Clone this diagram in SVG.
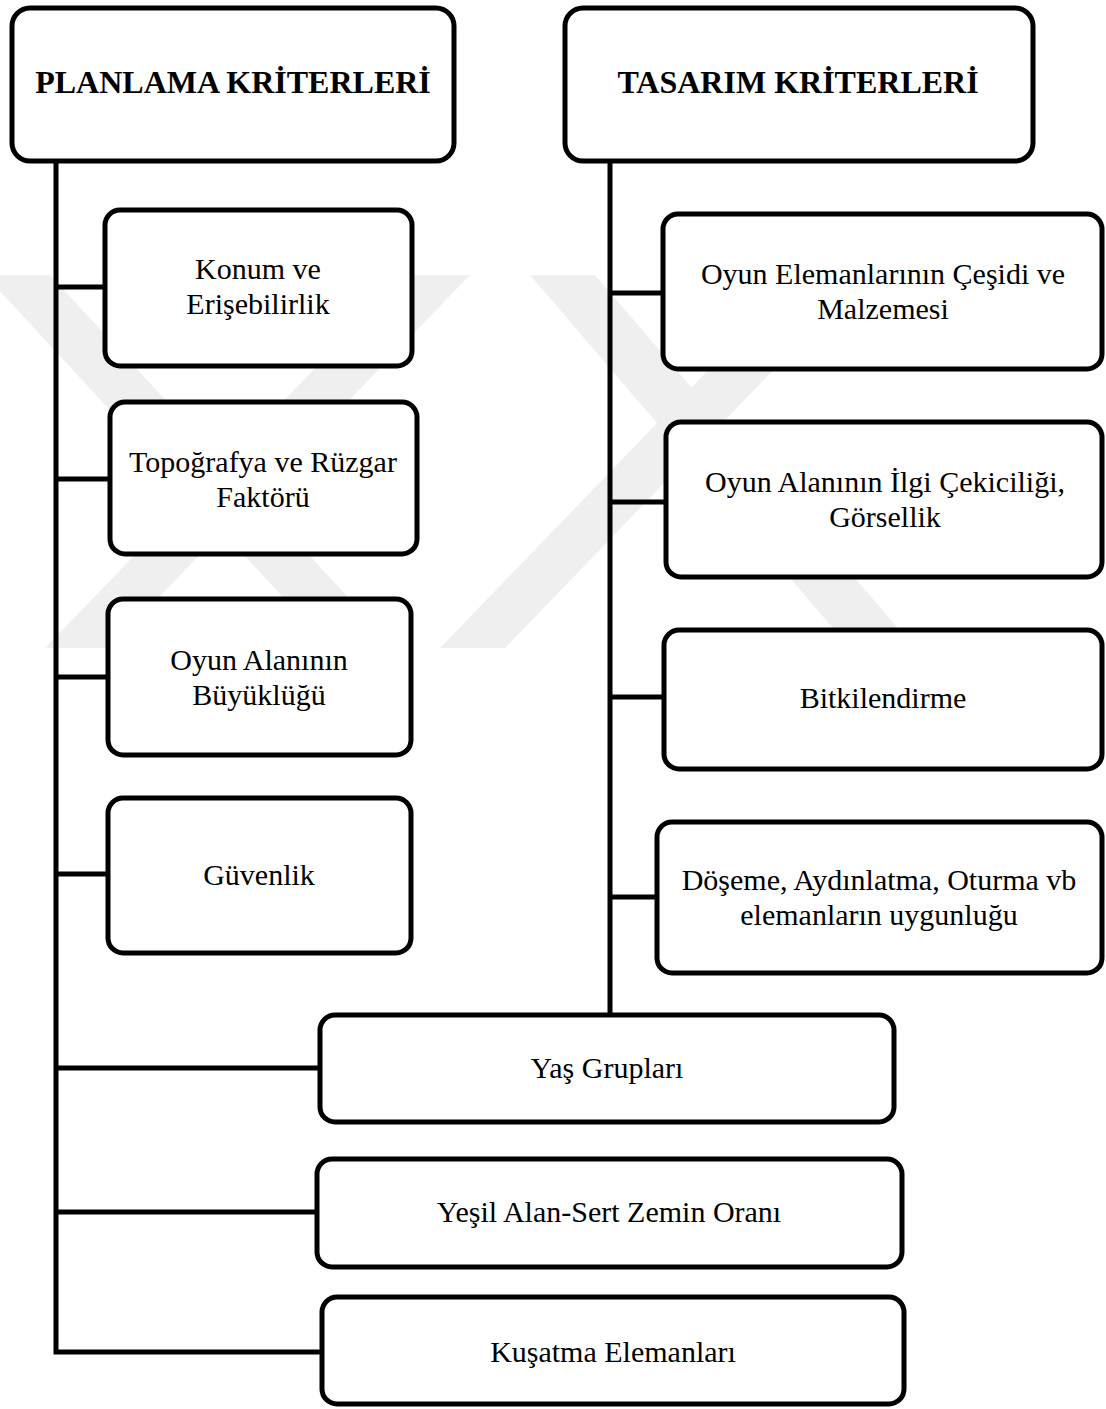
<svg xmlns="http://www.w3.org/2000/svg" width="1106" height="1409" viewBox="0 0 1106 1409">
<style>
.box{fill:#ffffff;stroke:#000000;stroke-width:5}
.t{font-family:"Liberation Serif","Times New Roman",serif;font-size:30px;fill:#000000;text-anchor:middle}
.h{font-family:"Liberation Serif","Times New Roman",serif;font-size:32px;font-weight:bold;fill:#000000;text-anchor:middle}
.c{fill:none;stroke:#000000;stroke-width:5}
.wm{fill:#efefef}
</style>
<rect width="1106" height="1409" fill="#ffffff"/>
<g id="watermark">
<polygon class="wm" points="-15,275 50,275 395,648 330,648"/>
<polygon class="wm" points="405,275 470,275 110,648 45,648"/>
<polygon class="wm" points="530,275 595,275 915,648 850,648"/>
<polygon class="wm" points="800,275 865,275 505,648 440,648"/>
</g>
<g id="connectors">
<path class="c" d="M56,161 V1352 H322"/>
<path class="c" d="M56,287 H105"/>
<path class="c" d="M56,479 H110"/>
<path class="c" d="M56,677 H108"/>
<path class="c" d="M56,874 H108"/>
<path class="c" d="M56,1068 H320"/>
<path class="c" d="M56,1212 H317"/>
<path class="c" d="M610,161 V1015"/>
<path class="c" d="M610,293 H663"/>
<path class="c" d="M610,502 H666"/>
<path class="c" d="M610,697 H664"/>
<path class="c" d="M610,897 H657"/>
</g>
<g id="planlama">
<rect class="box" x="12" y="8" width="442" height="153" rx="18"/>
<text class="h" x="233" y="93">PLANLAMA KRİTERLERİ</text>
</g>
<g id="tasarim">
<rect class="box" x="565" y="8" width="468" height="153" rx="18"/>
<text class="h" x="798" y="93">TASARIM KRİTERLERİ</text>
</g>
<g id="konum">
<rect class="box" x="105" y="210" width="307" height="156" rx="15"/>
<text class="t" x="258" y="279">Konum ve</text>
<text class="t" x="258" y="314">Erişebilirlik</text>
</g>
<g id="topografya">
<rect class="box" x="110" y="402" width="307" height="152" rx="15"/>
<text class="t" x="263" y="472">Topoğrafya ve Rüzgar</text>
<text class="t" x="263" y="507">Faktörü</text>
</g>
<g id="buyukluk">
<rect class="box" x="108" y="599" width="303" height="156" rx="15"/>
<text class="t" x="259" y="670">Oyun Alanının</text>
<text class="t" x="259" y="705">Büyüklüğü</text>
</g>
<g id="guvenlik">
<rect class="box" x="108" y="798" width="303" height="155" rx="15"/>
<text class="t" x="259" y="885">Güvenlik</text>
</g>
<g id="elemanlar">
<rect class="box" x="663" y="214" width="439" height="155" rx="15"/>
<text class="t" x="883" y="284">Oyun Elemanlarının Çeşidi ve</text>
<text class="t" x="883" y="319">Malzemesi</text>
</g>
<g id="ilgi">
<rect class="box" x="666" y="422" width="436" height="155" rx="15"/>
<text class="t" x="885" y="492">Oyun Alanının İlgi Çekiciliği,</text>
<text class="t" x="885" y="527">Görsellik</text>
</g>
<g id="bitkilendirme">
<rect class="box" x="664" y="630" width="438" height="139" rx="15"/>
<text class="t" x="883" y="708">Bitkilendirme</text>
</g>
<g id="doseme">
<rect class="box" x="657" y="822" width="445" height="151" rx="15"/>
<text class="t" x="879" y="890">Döşeme, Aydınlatma, Oturma vb</text>
<text class="t" x="879" y="925">elemanların uygunluğu</text>
</g>
<g id="yas">
<rect class="box" x="320" y="1015" width="574" height="107" rx="15"/>
<text class="t" x="607" y="1078">Yaş Grupları</text>
</g>
<g id="yesil">
<rect class="box" x="317" y="1159" width="585" height="108" rx="15"/>
<text class="t" x="609" y="1222">Yeşil Alan-Sert Zemin Oranı</text>
</g>
<g id="kusatma">
<rect class="box" x="322" y="1297" width="582" height="107" rx="15"/>
<text class="t" x="613" y="1362">Kuşatma Elemanları</text>
</g>
</svg>
